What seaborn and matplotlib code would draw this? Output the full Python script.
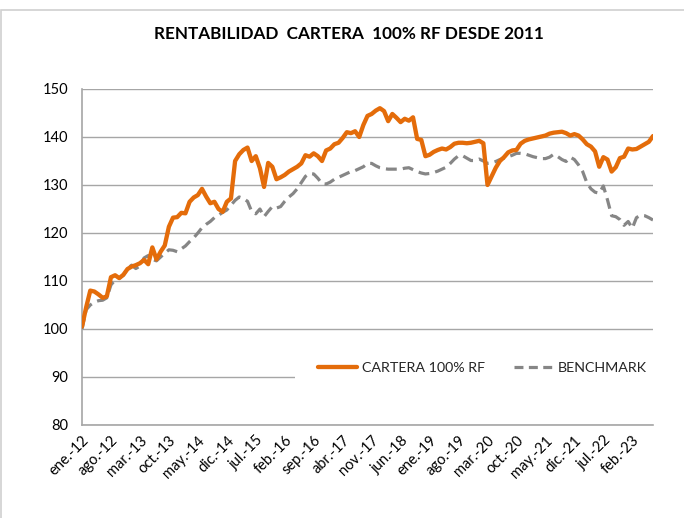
import matplotlib
matplotlib.use("Agg")
import matplotlib.pyplot as plt
from matplotlib.patches import Rectangle
from matplotlib.lines import Line2D
import numpy as np
import pandas as pd
import seaborn as sns

# ---------------- data ----------------
cartera = [
    # 2012
    100.5, 104.5, 108.0, 107.8, 107.2, 106.5, 106.8, 110.8, 111.2, 110.6, 111.3, 112.5,
    # 2013
    113.0, 113.3, 113.7, 114.4, 113.5, 117.0, 114.5, 116.1, 117.4, 121.3, 123.2, 123.3,
    # 2014
    124.2, 124.1, 126.5, 127.4, 127.9, 129.2, 127.6, 126.2, 126.5, 125.0, 124.4, 126.5,
    # 2015
    127.2, 135.0, 136.4, 137.3, 137.8, 135.0, 136.0, 133.5, 129.6, 134.6, 133.8, 131.2,
    # 2016
    131.6, 132.1, 132.8, 133.3, 133.8, 134.5, 136.2, 135.9, 136.6, 136.0, 135.0, 137.2,
    # 2017
    137.6, 138.5, 138.8, 139.8, 141.0, 140.8, 141.2, 140.0, 142.5, 144.4, 144.8, 145.5,
    # 2018
    146.0, 145.4, 143.3, 144.8, 144.0, 143.1, 143.8, 143.4, 144.1, 139.6, 139.4, 136.0,
    # 2019
    136.3, 136.9, 137.3, 137.6, 137.4, 137.9, 138.6, 138.8, 138.8, 138.7, 138.8, 139.0,
    # 2020
    139.2, 138.7, 130.0, 131.8, 133.6, 135.0, 135.8, 136.8, 137.2, 137.3, 138.6, 139.2,
    # 2021
    139.5, 139.7, 139.9, 140.1, 140.3, 140.7, 140.9, 141.0, 141.1, 140.8, 140.3, 140.6,
    # 2022
    140.3, 139.5, 138.5, 138.0, 137.0, 133.8, 135.8, 135.3, 132.8, 133.7, 135.6, 135.9,
    # 2023
    137.6, 137.4, 137.5, 138.0, 138.5, 139.0, 140.2,
]

benchmark = [
    # 2012
    100.0, 104.0, 105.0, 105.6, 105.9, 106.0, 106.5, 109.2, 110.2, 110.6, 111.2, 112.6,
    # 2013
    113.3, 112.6, 113.1, 114.8, 115.3, 114.5, 114.2, 115.0, 115.8, 116.5, 116.4, 116.1,
    # 2014
    116.7, 117.3, 118.2, 119.0, 120.0, 121.1, 121.8, 122.4, 123.2, 123.7, 124.3, 124.8,
    # 2015
    125.8, 126.8, 127.5, 127.2, 126.6, 124.5, 124.0, 125.0, 123.4, 124.5, 125.5, 125.2,
    # 2016
    125.5, 126.6, 127.5, 128.2, 129.2, 130.5, 131.8, 132.4, 132.3, 131.4, 130.3, 130.2,
    # 2017
    130.6, 131.2, 131.6, 132.0, 132.4, 132.8, 133.0, 133.4, 133.8, 134.5, 134.5, 134.0,
    # 2018
    133.6, 133.4, 133.3, 133.3, 133.3, 133.3, 133.5, 133.6, 133.2, 132.8, 132.5, 132.3,
    # 2019
    132.4, 132.6, 132.9, 133.3, 133.7, 134.5, 135.4, 136.1, 136.1, 135.6, 135.1, 135.1,
    # 2020
    135.4, 135.0, 134.5, 134.6, 134.9, 135.3, 135.6, 135.9, 136.2, 136.6, 136.6, 136.5,
    # 2021
    136.2, 135.9, 135.7, 135.5, 135.5, 135.8, 136.4, 135.9, 135.3, 134.9, 135.8, 135.3,
    # 2022
    134.2, 132.8, 130.5, 129.2, 128.5, 128.3, 129.8, 126.9, 123.6, 123.4, 122.8, 121.6,
    # 2023
    122.4, 121.0, 123.2, 123.7, 123.6, 123.2, 122.7,
]

tick_labels = ["ene.-12", "ago.-12", "mar.-13", "oct.-13", "may.-14", "dic.-14",
               "jul.-15", "feb.-16", "sep.-16", "abr.-17", "nov.-17", "jun.-18",
               "ene.-19", "ago.-19", "mar.-20", "oct.-20", "may.-21", "dic.-21",
               "jul.-22", "feb.-23"]

series_names = ["CARTERA 100% RF", "BENCHMARK"]
title = "RENTABILIDAD  CARTERA  100% RF DESDE 2011"
y_ticks = [80, 90, 100, 110, 120, 130, 140, 150]

# ---------------- build frame ----------------
n = len(cartera)
idx = np.arange(n)
df = pd.DataFrame({
    "idx": np.concatenate([idx, idx]),
    "valor": cartera + benchmark,
    "serie": [series_names[0]] * n + [series_names[1]] * n,
})

# ---------------- style ----------------
sns.set_style("white")
plt.rcParams["font.family"] = ["Lato", "DejaVu Sans"]

ORANGE = "#E46C0A"
GREY = "#868686"
GRID = "#A6A6A6"

fig = plt.figure(figsize=(6.84, 5.18), dpi=100)
ax = fig.add_axes([82 / 684, 1 - 425 / 518, (653 - 82) / 684, (425 - 89) / 518])

sns.lineplot(data=df[df.serie == series_names[1]], x="idx", y="valor",
             color=GREY, linewidth=2.3, ax=ax, legend=False, zorder=3)
ax.lines[-1].set_dashes([3.4, 1.9])
sns.lineplot(data=df[df.serie == series_names[0]], x="idx", y="valor",
             color=ORANGE, linewidth=3.1, ax=ax, legend=False, zorder=4)
ax.lines[-1].set_solid_capstyle("round")

ax.set_xlim(0, n - 1)
ax.set_ylim(80, 150)
ax.set_yticks(y_ticks)
ax.set_yticklabels([str(v) for v in y_ticks], fontsize=10.5, color="#000000")
ax.set_xticks(np.arange(0, n, 7)[:len(tick_labels)])
ax.set_xticklabels(tick_labels, rotation=45, ha="right", rotation_mode="anchor",
                   fontsize=10.5, color="#000000")
ax.tick_params(axis="y", length=0, pad=10)
ax.tick_params(axis="x", length=0, pad=6)
ax.set_xlabel("")
ax.set_ylabel("")

ax.grid(axis="y", color=GRID, linewidth=1.0, zorder=0)
ax.grid(axis="x", visible=False)
for s in ["top", "right"]:
    ax.spines[s].set_visible(False)
for s in ["left", "bottom"]:
    ax.spines[s].set_color(GRID)
    ax.spines[s].set_linewidth(1.2)
ax.set_axisbelow(True)

# legend area (white box over the lower gridlines, as in the original)
ax.add_patch(Rectangle((0.373, 0.08), 0.64, 0.19, transform=ax.transAxes,
                       facecolor="white", edgecolor="none", zorder=2, clip_on=False))
handles = [Line2D([], [], color=ORANGE, linewidth=3.1, solid_capstyle="round"),
           Line2D([], [], color=GREY, linewidth=2.3, dashes=[2.8, 1.7])]
ax.legend(handles, series_names, loc="center left", bbox_to_anchor=(0.414, 0.17),
          ncol=2, frameon=False, fontsize=10.3, handlelength=2.7, handletextpad=0.35,
          columnspacing=2.0, borderaxespad=0, borderpad=0)

fig.text(349 / 684, 1 - 34 / 518, title, ha="center", va="center",
         fontsize=12.3, fontweight="bold", color="#000000")

# chart-area border
fig.patches.append(Rectangle((1 / 684, -0.1), 1.2, 1.1 - 10 / 518,
                             transform=fig.transFigure, facecolor="none",
                             edgecolor="#D0D0D0", linewidth=1.2))

fig.savefig("out.png", dpi=100)
